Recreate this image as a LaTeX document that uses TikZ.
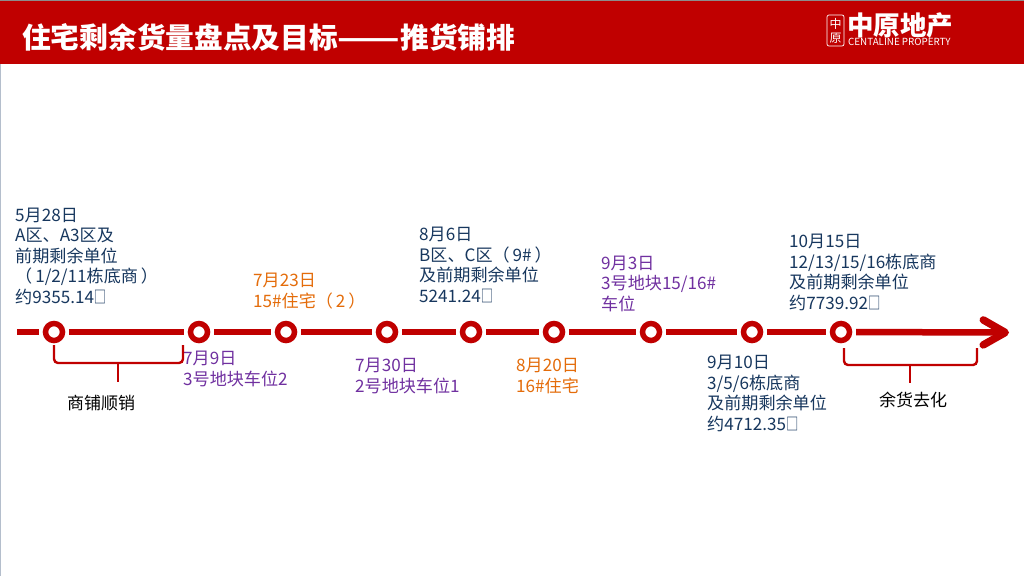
\documentclass[tikz,border=0pt]{standalone}
\usepackage{fontspec}
\setmainfont{Noto Sans CJK SC}
\usepackage{xcolor}
\usetikzlibrary{arrows.meta,positioning}
\definecolor{headred}{HTML}{C00000}
\definecolor{navytext}{HTML}{17375E}
\definecolor{purpletext}{HTML}{7030A0}
\definecolor{orangetext}{HTML}{E46C0A}
\definecolor{edgegrey}{HTML}{B4BECC}
\newcommand{\tofu}{\scalebox{0.72}[1]{□}}
\newcommand{\parspace}{\hspace{3pt}}
\begin{document}
\begin{tikzpicture}[
    x=1pt, y=-1pt,
    ring/.style={circle, draw=headred, line width=5.5pt, fill=white, minimum size=17pt, inner sep=0pt, outer sep=6.5pt},
    tline/.style={line width=5.5pt, color=headred},
    brace/.style={line width=2.4pt, color=headred, rounded corners=4pt},
    tag/.style={inner sep=0pt, align=left, font=\fontsize{17.1}{20.6}\selectfont},
    navy/.style={tag, color=navytext},
    purple/.style={tag, color=purpletext},
    orange/.style={tag, color=orangetext},
    bracetag/.style={inner sep=0pt, color=black, font=\fontsize{17}{20.6}\selectfont}
]
\useasboundingbox (0,0) rectangle (1024,576);

% Header band
\fill[white] (0,0) rectangle (1024,576);
\fill[headred] (0,1) rectangle (1024,63.5);
\draw[color=black!45, line width=1pt] (0,0.5) -- (1024,0.5);
\draw[color=edgegrey, line width=1pt] (0.5,64) -- (0.5,576);
\node[anchor=west, inner sep=0pt, color=white, font=\fontsize{28.7}{30}\selectfont\bfseries] (title) at (22,37) {住宅剩余货量盘点及目标\scalebox{1.27}[1]{——}推货铺排};

% Logo
\node[draw=white, line width=0.7pt, rounded corners=2pt, minimum width=17pt, minimum height=31pt, inner sep=0pt, color=white, align=center, font=\fontsize{12}{14}\selectfont] (seal) at (835.5,30.5) {中\\原};
\node[anchor=west, inner sep=0pt, color=white, font=\fontsize{26.5}{26.5}\selectfont\bfseries] (brand) at (847,35) {\smash{中原地产}};
\node[anchor=west, inner sep=0pt, color=white, font=\fontsize{9.8}{10}\selectfont] (brandsub) at (848,42) {CENTALINE PROPERTY};

% Timeline markers
\node[ring] (m1) at (54,332) {};
\node[ring, right of=m1, node distance=145pt] (m2) {};
\node[ring, right of=m2, node distance=87pt] (m3) {};
\node[ring, right of=m3, node distance=101pt] (m4) {};
\node[ring, right of=m4, node distance=84pt] (m5) {};
\node[ring, right of=m5, node distance=83pt] (m6) {};
\node[ring, right of=m6, node distance=97pt] (m7) {};
\node[ring, right of=m7, node distance=101pt] (m8) {};
\node[ring, right of=m8, node distance=89pt] (m9) {};
\coordinate (start) at (17,332);
\coordinate (tip) at (1009,332.5);

% Timeline segments
\draw[tline] (start) -- (m1);
\draw[tline] (m1) -- (m2);
\draw[tline] (m2) -- (m3);
\draw[tline] (m3) -- (m4);
\draw[tline] (m4) -- (m5);
\draw[tline] (m5) -- (m6);
\draw[tline] (m6) -- (m7);
\draw[tline] (m7) -- (m8);
\draw[tline] (m8) -- (m9);
\draw[tline, line width=6.5pt, -{Straight Barb[length=22pt,width=25pt,round,line width=7.5pt]}] (m9) -- (tip);

% Labels above and below the line
\node[navy, above right=27pt and -39pt of m1.center] (t1) {5月28日\\A区、A3区及\\前期剩余单位\\（\parspace 1/2/11栋底商\parspace ）\\约9355.14\tofu};
\node[purple, below right=19pt and -16pt of m2.center] (t2) {7月9日\\3号地块车位2};
\node[orange, above right=23pt and -33pt of m3.center] (t3) {7月23日\\15\#住宅（\parspace 2\parspace ）};
\node[purple, below right=26pt and -32pt of m4.center] (t4) {7月30日\\2号地块车位1};
\node[navy, above right=29pt and -52pt of m5.center] (t5) {8月6日\\B区、C区（\parspace 9\#\parspace ）\\及前期剩余单位\\5241.24\tofu};
\node[orange, below right=26pt and -38pt of m6.center] (t6) {8月20日\\16\#住宅};
\node[purple, above right=20pt and -50pt of m7.center] (t7) {9月3日\\3号地块15/16\#\\车位};
\node[navy, below right=23pt and -45pt of m8.center] (t8) {9月10日\\3/5/6栋底商\\及前期剩余单位\\约4712.35\tofu};
\node[navy, above right=21pt and -52pt of m9.center] (t9) {10月15日\\12/13/15/16栋底商\\及前期剩余单位\\约7739.92\tofu};

% Braces under the line
\coordinate (shopL) at (54,345);
\coordinate (shopR) at (183,345);
\coordinate (shopM) at (118,363);
\coordinate (shopD) at (118,382);
\draw[brace] (shopL) |- (shopM) -| (shopR);
\draw[brace] (shopM) -- (shopD);
\node[bracetag, below=13pt of shopD, xshift=-17pt] (shoptag) {商铺顺销};

\coordinate (stockL) at (844,348);
\coordinate (stockR) at (977,348);
\coordinate (stockM) at (910,365);
\coordinate (stockD) at (910,383);
\draw[brace] (stockL) |- (stockM) -| (stockR);
\draw[brace] (stockM) -- (stockD);
\node[bracetag, below=9pt of stockD, xshift=3pt] (stocktag) {余货去化};

\end{tikzpicture}
\end{document}
